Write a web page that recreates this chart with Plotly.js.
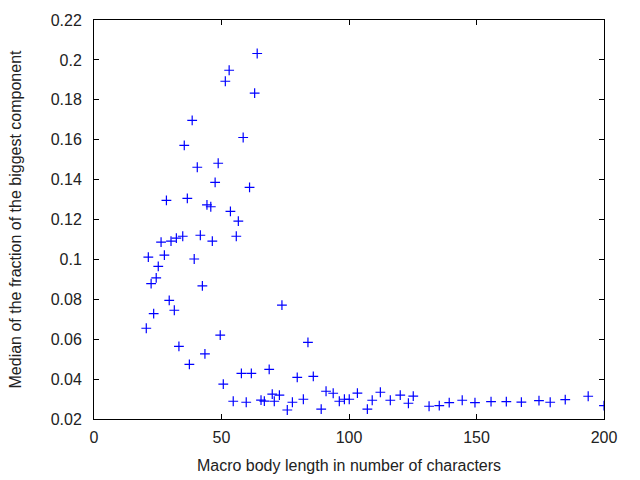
<!DOCTYPE html>
<html>
<head>
<meta charset="utf-8">
<script src="https://cdn.plot.ly/plotly-3.0.1.min.js"></script>
<style>html,body{margin:0;padding:0;background:#fff;}#chart{width:640px;height:480px;}</style>
</head>
<body>
<div id="chart"></div>
<script>
// Macro body length (characters)
var bodyLength = [64, 53, 51.5, 63, 38.5, 58.5, 35.4, 61, 48.7, 40.5,
  47.5, 36.6, 28.4, 44.3, 45.8, 53.5, 56.6, 34.8, 41.7, 32.3,
  30.2, 26.3, 46.4, 55.8, 21.3, 27.6, 39.3, 25.2, 22.4, 24.4,
  42.5, 29.5, 31.5, 23.4, 20.5, 73.7, 49.5, 83.9, 33.3, 43.5,
  37.4, 68.7, 57.8, 61.7, 86, 79.7, 50.7, 54.6, 59.7, 65.5,
  66.8, 69.9, 70.7, 72.7, 75.8, 77.8, 82.1, 89.1, 91, 93.8,
  96.2, 98.2, 100.1, 103.3, 107.2, 109.1, 112.3, 116.2, 120.1, 123.3,
  125.2, 131.4, 135.4, 139.3, 144.4, 149.4, 155.7, 161.7, 167.6, 174.5,
  178.9, 184.8, 193.8, 200];
// Median of the fraction of the biggest component
var medianFraction = [0.2032, 0.1948, 0.1893, 0.1833, 0.1697, 0.1611, 0.1572, 0.1361, 0.1482, 0.1462,
  0.1386, 0.1306, 0.1296, 0.1273, 0.1264, 0.1241, 0.1192, 0.1116, 0.1121, 0.1107,
  0.1092, 0.1087, 0.1092, 0.1116, 0.1011, 0.1021, 0.1002, 0.0965, 0.0879, 0.0907,
  0.0867, 0.0795, 0.0745, 0.0728, 0.0655, 0.0771, 0.0620, 0.0584, 0.0564, 0.0526,
  0.0474, 0.0449, 0.0429, 0.0429, 0.0414, 0.0409, 0.0375, 0.0289, 0.0284, 0.0295,
  0.0290, 0.0325, 0.0289, 0.0320, 0.0245, 0.0284, 0.0299, 0.0249, 0.0339, 0.0329,
  0.0289, 0.0299, 0.0299, 0.0330, 0.0249, 0.0294, 0.0334, 0.0294, 0.0320, 0.0279,
  0.0315, 0.0264, 0.0267, 0.0282, 0.0294, 0.0282, 0.0287, 0.0287, 0.0285, 0.0292,
  0.0284, 0.0297, 0.0314, 0.0267];

var xTitle = 'Macro body length in number of characters';
var yTitle = 'Median of the fraction of the biggest component';

var trace = {
  x: bodyLength,
  y: medianFraction,
  type: 'scatter',
  mode: 'markers',
  marker: {symbol: 'cross-thin', size: 7, color: '#0000ff', line: {color: '#0000ff', width: 1.2}},
  hoverinfo: 'x+y',
  showlegend: false
};

var font = {family: 'Liberation Sans, Arial, sans-serif', size: 16, color: '#222'};

var layout = {
  width: 640, height: 480,
  margin: {l: 94, r: 36, t: 20, b: 61, pad: 0},
  paper_bgcolor: '#fff', plot_bgcolor: '#fff',
  font: font,
  xaxis: {
    range: [0, 200], tick0: 0, dtick: 50,
    showgrid: false, zeroline: false,
    showline: true, linecolor: '#000', linewidth: 1, mirror: 'ticks',
    ticks: 'inside', ticklen: 5, tickcolor: '#000', tickwidth: 1,
    ticklabelstandoff: 4,
    title: {text: xTitle, font: font, standoff: 14}
  },
  yaxis: {
    range: [0.02, 0.22], tick0: 0.02, dtick: 0.02,
    showgrid: false, zeroline: false,
    showline: true, linecolor: '#000', linewidth: 1, mirror: 'ticks',
    ticks: 'inside', ticklen: 5, tickcolor: '#000', tickwidth: 1,
    ticklabelstandoff: 8,
    title: {text: yTitle, font: font, standoff: 25}
  }
};

Plotly.newPlot('chart', [trace], layout, {staticPlot: true, displayModeBar: false});
</script>
</body>
</html>
